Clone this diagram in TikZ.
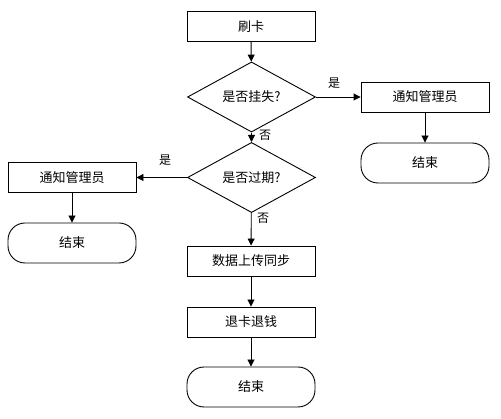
\documentclass[tikz,border=0pt]{standalone}
\usepackage{fontspec}
\setmainfont{Noto Sans CJK SC}
\usetikzlibrary{shapes.geometric,arrows.meta}
\begin{document}
\begin{tikzpicture}[x=1pt,y=-1pt,
  every node/.style={font=\fontsize{13}{15}\selectfont, inner sep=0pt},
  proc/.style={draw, line width=0.9pt, minimum width=128pt, minimum height=30pt},
  term/.style={draw, line width=0.9pt, minimum width=128pt, minimum height=40pt, rounded corners=17pt},
  dec/.style={draw, line width=0.9pt, diamond, minimum width=128pt, minimum height=50pt},
  arr/.style={draw, line width=0.9pt, -{Triangle[length=7pt,width=7pt]}},
  lab/.style={font=\fontsize{12}{14}\selectfont}]
\useasboundingbox (0,0) rectangle (501,419);
\node[proc] (swipe) at (251,26.5) {刷卡};
\node[dec] (lost) at (251.5,97) {是否挂失?};
\node[proc] (notifyR) at (425,97) {通知管理员};
\node[term] (endR) at (425,163) {结束};
\node[dec] (expired) at (251.5,177.5) {是否过期?};
\node[proc] (notifyL) at (72,177.5) {通知管理员};
\node[term] (endL) at (72,243) {结束};
\node[proc] (sync) at (251,261) {数据上传同步};
\node[proc] (refund) at (251,322) {退卡退钱};
\node[term] (endB) at (251,387) {结束};
\node[lab] (y1) at (334,83) {是};
\node[lab] (n1) at (265,135) {否};
\node[lab] (y2) at (165,160) {是};
\node[lab] (n2) at (263,218) {否};
\draw[arr] (swipe) -- (lost);
\draw[arr] (lost) -- (notifyR);
\draw[arr] (notifyR) -- (endR);
\draw[arr] (lost) -- (expired);
\draw[arr] (expired) -- (notifyL);
\draw[arr] (notifyL) -- (endL);
\draw[arr] (expired) -- (sync);
\draw[arr] (sync) -- (refund);
\draw[arr] (refund) -- (endB);
\end{tikzpicture}
\end{document}
